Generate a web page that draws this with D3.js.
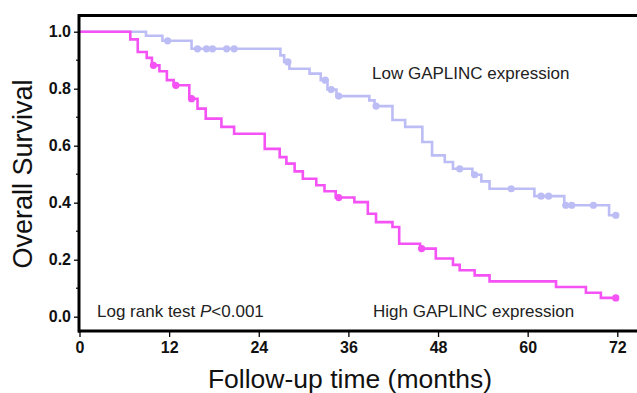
<!DOCTYPE html>
<html>
<head>
<meta charset="utf-8">
<script src="https://cdn.jsdelivr.net/npm/d3@7"></script>
<style>
  body { margin: 0; background: #fff; }
  svg { display: block; font-family: "Liberation Sans", Arial, sans-serif; }
</style>
</head>
<body>
<svg id="km" width="637" height="393"></svg>
<script>
// Low GAPLINC expression: step times (months) and survival after each step
const lowTimes = [8.9, 11.1, 15.0, 26.9, 27.4, 28.1, 30.8, 32.3, 33.2, 34.4, 38.8, 39.5, 41.9, 43.6, 45.9, 47.2, 48.9, 50.0, 52.6, 53.8, 54.9, 60.9, 64.9, 70.9];
const lowSurv  = [0.986, 0.968, 0.940, 0.917, 0.894, 0.870, 0.853, 0.830, 0.797, 0.774, 0.759, 0.739, 0.690, 0.666, 0.613, 0.566, 0.543, 0.519, 0.498, 0.475, 0.449, 0.423, 0.391, 0.356];
const lowCensor = [11.8, 15.8, 17.0, 17.8, 19.7, 20.7, 27.9, 32.9, 33.7, 34.7, 39.7, 50.9, 52.9, 57.8, 61.8, 62.8, 65.1, 65.9, 68.8, 71.8];

// High GAPLINC expression
const highTimes = [6.8, 7.8, 9.0, 9.7, 10.7, 11.7, 12.6, 14.7, 15.8, 16.9, 19.0, 20.7, 24.8, 26.8, 27.7, 28.8, 29.9, 31.7, 32.8, 34.3, 36.8, 38.6, 39.7, 41.9, 42.8, 45.6, 47.7, 50.0, 50.9, 52.9, 54.9, 63.8, 67.8, 69.8];
const highSurv  = [0.973, 0.929, 0.908, 0.882, 0.861, 0.830, 0.812, 0.765, 0.730, 0.695, 0.666, 0.642, 0.589, 0.560, 0.537, 0.510, 0.484, 0.461, 0.440, 0.418, 0.402, 0.361, 0.332, 0.315, 0.256, 0.239, 0.204, 0.182, 0.163, 0.145, 0.124, 0.104, 0.084, 0.066];
const highCensor = [9.9, 12.9, 15.0, 34.7, 45.8, 71.8];

const xTicks = [0, 12, 24, 36, 48, 60, 72];
const yTicks = [0, 0.2, 0.4, 0.6, 0.8, 1.0];
const yMinor = [0.1, 0.3, 0.5, 0.7, 0.9];

const svg = d3.select("#km");
const x = d3.scaleLinear().domain([0, 72]).range([79.5, 617.3]);
const y = d3.scaleLinear().domain([0, 1]).range([316.7, 31.7]);

// build step series: start at 1.0, extend to 72
function series(times, surv) {
  const pts = [{t: 0, s: 1}];
  times.forEach((t, i) => pts.push({t: t, s: surv[i]}));
  pts.push({t: 72, s: surv[surv.length - 1]});
  return pts;
}
function survAt(times, surv, t) {
  let s = 1;
  times.forEach((tt, i) => { if (tt <= t) s = surv[i]; });
  return s;
}

const line = d3.line().x(d => x(d.t)).y(d => y(d.s)).curve(d3.curveStepAfter);

const groups = [
  {times: lowTimes, surv: lowSurv, censor: lowCensor, color: "#bdbdf6"},
  {times: highTimes, surv: highSurv, censor: highCensor, color: "#f452f4"}
];

groups.forEach(g => {
  svg.append("path")
    .datum(series(g.times, g.surv))
    .attr("fill", "none")
    .attr("stroke", g.color)
    .attr("stroke-width", 2.6)
    .attr("d", line);

  svg.append("g").selectAll("circle")
    .data(g.censor)
    .join("circle")
    .attr("cx", d => x(d))
    .attr("cy", d => y(survAt(g.times, g.surv, d)))
    .attr("r", 3.6)
    .attr("fill", g.color);
});

// top frame line (no right border in the original)
svg.append("line")
  .attr("x1", 78.5).attr("x2", 637).attr("y1", 15.5).attr("y2", 15.5)
  .attr("stroke", "#000").attr("stroke-width", 3);

// y axis
const yAxis = svg.append("g")
  .attr("transform", "translate(79,0)")
  .call(d3.axisLeft(y).tickValues(yTicks).tickFormat(d3.format(".1f")).tickSize(5).tickPadding(3));
yAxis.select(".domain").attr("stroke-width", 3).attr("d", "M0,14V332.5");
yAxis.selectAll(".tick line").attr("stroke-width", 1.3);
yAxis.selectAll(".tick text")
  .attr("font-size", 16).attr("font-weight", "bold").attr("fill", "#111")
  .attr("font-family", "'Liberation Sans', Arial, sans-serif");
svg.append("g").selectAll("line")
  .data(yMinor).join("line")
  .attr("x1", 76).attr("x2", 79)
  .attr("y1", d => y(d)).attr("y2", d => y(d))
  .attr("stroke", "#000").attr("stroke-width", 1.2);

// x axis
const xAxis = svg.append("g")
  .attr("transform", "translate(0,331)")
  .call(d3.axisBottom(x).tickValues(xTicks).tickSize(6).tickPadding(5));
xAxis.select(".domain").attr("stroke-width", 3).attr("d", "M78,0H637");
xAxis.selectAll(".tick line").attr("stroke-width", 1.3);
xAxis.selectAll(".tick text")
  .attr("font-size", 16).attr("font-weight", "bold").attr("fill", "#111")
  .attr("font-family", "'Liberation Sans', Arial, sans-serif");

// titles
svg.append("text")
  .attr("x", 350).attr("y", 388)
  .attr("text-anchor", "middle")
  .attr("font-size", 26.5).attr("fill", "#111")
  .text("Follow-up time (months)");
svg.append("text")
  .attr("transform", "translate(32,174) rotate(-90)")
  .attr("text-anchor", "middle")
  .attr("font-size", 27).attr("fill", "#111")
  .text("Overall Survival");

// annotations
svg.append("text").attr("x", 372).attr("y", 79)
  .attr("font-size", 17).attr("fill", "#222")
  .text("Low GAPLINC expression");
svg.append("text").attr("x", 373).attr("y", 317)
  .attr("font-size", 17).attr("fill", "#222")
  .text("High GAPLINC expression");
const lr = svg.append("text").attr("x", 97).attr("y", 317)
  .attr("font-size", 17).attr("fill", "#222");
lr.append("tspan").text("Log rank test ");
lr.append("tspan").attr("font-style", "italic").text("P");
lr.append("tspan").text("<0.001");
</script>
</body>
</html>
